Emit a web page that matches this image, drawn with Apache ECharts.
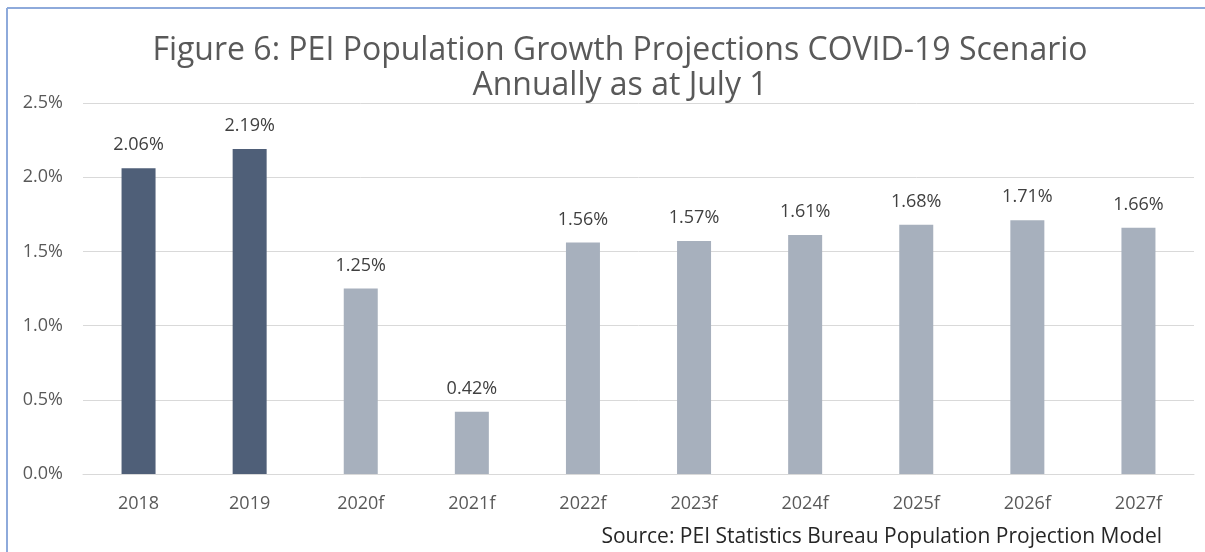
<!DOCTYPE html>
<html><head><meta charset="utf-8">
<script src="https://cdn.jsdelivr.net/npm/echarts@6/dist/echarts.min.js"></script>
<style>html,body{margin:0;padding:0;background:#fff}#c{width:1205px;height:552px}</style>
</head><body><div id="c"></div>
<script>
const categories = ['2018','2019','2020f','2021f','2022f','2023f','2024f','2025f','2026f','2027f'];
const growth = [2.06, 2.19, 1.25, 0.42, 1.56, 1.57, 1.61, 1.68, 1.71, 1.66];
const isActual = [true, true, false, false, false, false, false, false, false, false];
const yTicks = ['0.0%','0.5%','1.0%','1.5%','2.0%','2.5%'];
const FONT = 'Open Sans';
const chart = echarts.init(document.getElementById('c'));
chart.setOption({
  animation: false,
  backgroundColor: '#fff',
  title: {
    text: 'Figure 6: PEI Population Growth Projections COVID-19 Scenario\nAnnually as at July 1',
    left: 615, top: 28, textAlign: 'center',
    textStyle: {fontFamily: FONT, fontSize: 32, fontWeight: 'normal', color: '#595959', lineHeight: 35}
  },
  graphic: [
    {type: 'line', shape: {x1: 7, y1: 8, x2: 1205, y2: 8}, style: {stroke: '#8eaadb', lineWidth: 2}},
    {type: 'line', shape: {x1: 7, y1: 8, x2: 7, y2: 552}, style: {stroke: '#8eaadb', lineWidth: 2}},
    {type: 'text', right: 43, top: 527, style: {text: 'Source: PEI Statistics Bureau Population Projection Model', fontFamily: FONT, fontSize: 21, fill: '#262626'}}
  ],
  grid: {left: 83, right: 11, top: 103, bottom: 78},
  xAxis: {
    type: 'category', data: categories,
    axisLine: {lineStyle: {color: '#d9d9d9'}}, axisTick: {show: false},
    axisLabel: {fontFamily: FONT, fontSize: 18, color: '#595959', margin: 21}
  },
  yAxis: {
    type: 'value', min: 0, max: 2.5, interval: 0.5,
    axisLine: {show: false}, axisTick: {show: false},
    splitLine: {lineStyle: {color: '#d9d9d9'}},
    axisLabel: {fontFamily: FONT, fontSize: 18, color: '#595959', margin: 20,
      formatter: v => yTicks[Math.round(v / 0.5)]}
  },
  series: [{
    type: 'bar', barWidth: 34,
    data: growth.map((v, i) => ({value: v, itemStyle: {color: isActual[i] ? '#4f5f78' : '#a7b0bd'}})),
    label: {show: true, position: 'top', distance: 14, fontFamily: FONT, fontSize: 18, color: '#404040',
      formatter: p => p.value.toFixed(2) + '%'}
  }]
});
</script></body></html>
